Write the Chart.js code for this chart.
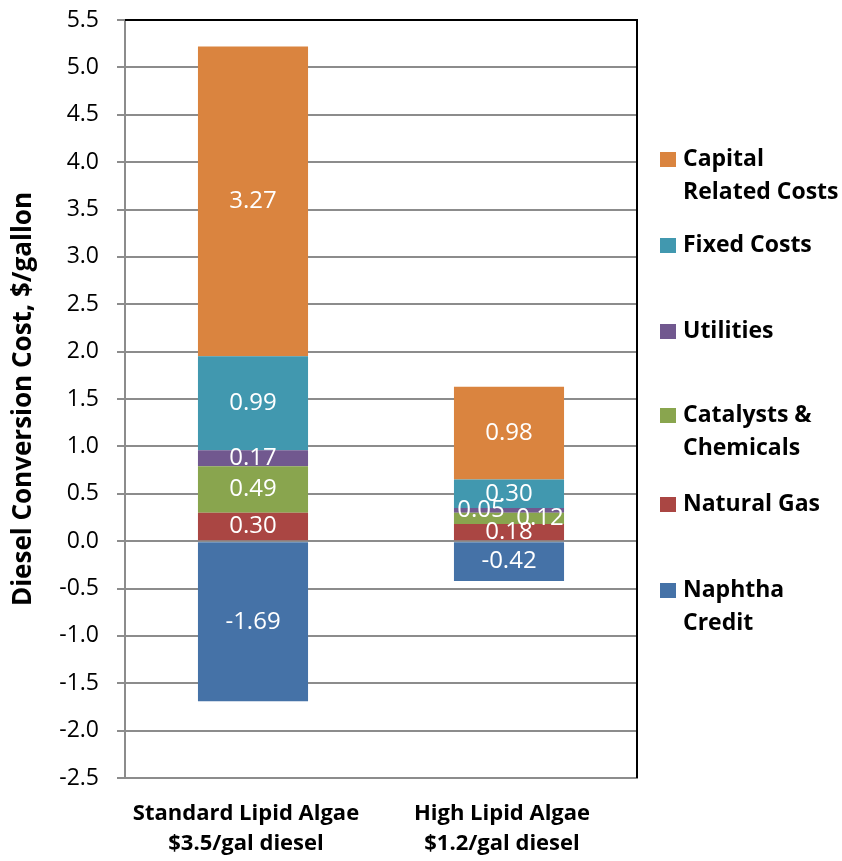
<!DOCTYPE html>
<html>
<head>
<meta charset="utf-8">
<script src="https://cdn.jsdelivr.net/npm/chart.js@4.4.1/dist/chart.umd.min.js"></script>
<style>
  html, body { margin: 0; padding: 0; background: #fff; }
  #wrap { width: 842px; height: 861px; position: relative; }
</style>
</head>
<body>
<div id="wrap"><canvas id="c" width="842" height="861"></canvas></div>
<script>
// Categories (two lines each)
const categories = [
  ['Standard Lipid Algae', '$3.5/gal diesel'],
  ['High Lipid Algae', '$1.2/gal diesel']
];

// Cost components, $/gallon
const naphthaCredit = [-1.69, -0.42];
const naturalGas    = [0.30, 0.18];
const catalysts     = [0.49, 0.12];
const utilities     = [0.17, 0.05];
const fixedCosts    = [0.99, 0.30];
const capitalCosts  = [3.27, 0.98];

// Value axis
const yMin = -2.5, yMax = 5.5, yStep = 0.5;

const FONT = '"Open Sans", "Liberation Sans", sans-serif';

const series = [
  { label: 'Naphtha Credit',        legend: ['Naphtha', 'Credit'],        data: naphthaCredit, color: '#4572A7' },
  { label: 'Natural Gas',           legend: ['Natural Gas'],              data: naturalGas,    color: '#AA4643' },
  { label: 'Catalysts & Chemicals', legend: ['Catalysts &', 'Chemicals'], data: catalysts,     color: '#89A54E' },
  { label: 'Utilities',             legend: ['Utilities'],                data: utilities,     color: '#71588F' },
  { label: 'Fixed Costs',           legend: ['Fixed Costs'],              data: fixedCosts,    color: '#4198AF' },
  { label: 'Capital Related Costs', legend: ['Capital', 'Related Costs'], data: capitalCosts,  color: '#DA843F' }
];

// Black border along the top and right of the plot area
const framePlugin = {
  id: 'frame',
  beforeDatasetsDraw(chart) {
    const { ctx, chartArea: a } = chart;
    ctx.save();
    ctx.lineWidth = 2;
    ctx.strokeStyle = '#000';
    ctx.beginPath();
    ctx.moveTo(a.left, a.top);
    ctx.lineTo(a.right, a.top);
    ctx.lineTo(a.right, a.bottom);
    ctx.stroke();
    ctx.restore();
  }
};

// Value labels centred in each segment (two thin segments nudged sideways)
const labelShift = { '3|1': [-28, 0], '2|1': [31, 0] };
const valueLabels = {
  id: 'valueLabels',
  afterDatasetsDraw(chart) {
    const ctx = chart.ctx;
    ctx.save();
    ctx.fillStyle = '#fff';
    ctx.font = '24px ' + FONT;
    ctx.textAlign = 'center';
    ctx.textBaseline = 'middle';
    chart.data.datasets.forEach((ds, di) => {
      chart.getDatasetMeta(di).data.forEach((bar, i) => {
        const s = labelShift[di + '|' + i] || [0, 0];
        const cy = (bar.y + bar.base) / 2;
        ctx.fillText(ds.data[i].toFixed(2), bar.x + s[0], cy + s[1]);
      });
    });
    ctx.restore();
  }
};

// Legend on the right, top entry = top segment
const legendRows = [159, 245, 331, 415, 504, 590];
const sideLegend = {
  id: 'sideLegend',
  afterDraw(chart) {
    const ctx = chart.ctx;
    const items = chart.data.datasets.slice().reverse();
    ctx.save();
    ctx.font = 'bold 23px ' + FONT;
    ctx.textBaseline = 'middle';
    ctx.textAlign = 'left';
    items.forEach((ds, k) => {
      const y0 = legendRows[k];
      ctx.fillStyle = ds.backgroundColor;
      ctx.fillRect(660, y0 - 7, 16, 15);
      ctx.fillStyle = '#000';
      ds.legendLines.forEach((line, j) => ctx.fillText(line, 683, y0 + j * 33));
    });
    ctx.restore();
  }
};

new Chart(document.getElementById('c'), {
  type: 'bar',
  data: {
    labels: categories,
    datasets: series.map(s => ({
      label: s.label,
      legendLines: s.legend,
      data: s.data,
      backgroundColor: s.color,
      borderWidth: 0,
      categoryPercentage: 1,
      barPercentage: 0.43
    }))
  },
  options: {
    responsive: false,
    animation: false,
    layout: { padding: { left: 0, top: 0, right: 205, bottom: 0 } },
    plugins: { legend: { display: false }, tooltip: { enabled: false } },
    scales: {
      x: {
        stacked: true,
        grid: { display: false, drawTicks: false },
        border: { display: true, color: '#8C8C8C', width: 2 },
        ticks: {
          color: '#000', padding: 20, maxRotation: 0, labelOffset: -7,
          font: { family: FONT, size: 22, weight: 'bold', lineHeight: 1.4 }
        },
        afterFit(s) { s.height = 83; s.paddingLeft = 0; s.paddingRight = 0; }
      },
      y: {
        stacked: true,
        min: yMin, max: yMax,
        grid: { drawOnChartArea: true, drawTicks: true, tickLength: 8, color: '#8C8C8C', lineWidth: 2 },
        border: { display: true, color: '#8C8C8C', width: 2 },
        ticks: {
          stepSize: yStep, color: '#000', padding: 18,
          font: { family: FONT, size: 23 },
          callback: v => Number(v).toFixed(1)
        },
        title: {
          display: true, text: 'Diesel Conversion Cost, $/gallon', color: '#000',
          font: { family: FONT, size: 26, weight: 'bold' }, padding: { top: 8, bottom: 0 }
        },
        afterFit(s) { s.width = 125; s.paddingTop = 20; s.paddingBottom = 0; }
      }
    }
  },
  plugins: [framePlugin, valueLabels, sideLegend]
});
</script>
</body>
</html>
